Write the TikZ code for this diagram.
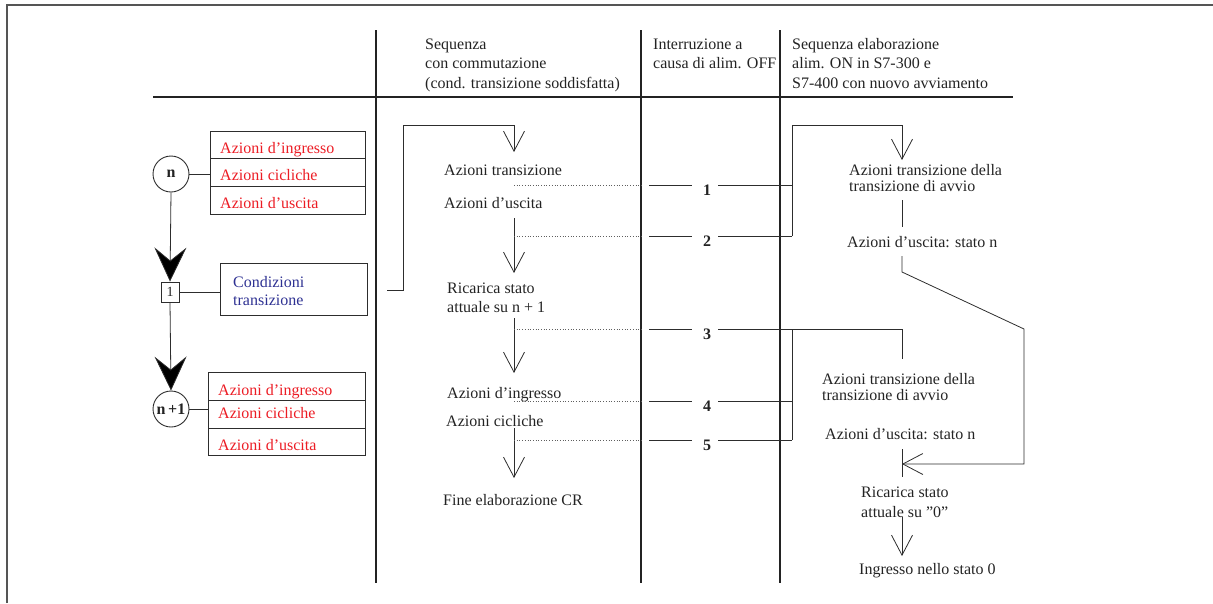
\documentclass[tikz,border=0pt]{standalone}
\usepackage{fontspec}
\setmainfont{Liberation Serif}
\usetikzlibrary{arrows.meta}
\definecolor{inkc}{RGB}{35,35,35}
\definecolor{linec}{RGB}{45,45,45}
\definecolor{redtxt}{RGB}{236,28,36}
\definecolor{bluetxt}{RGB}{46,49,146}
\definecolor{framec}{RGB}{85,85,85}
\definecolor{dotc}{RGB}{95,95,95}
\begin{document}
\begin{tikzpicture}[x=1pt,y=-1pt,
  txt/.style={anchor=base west, inner sep=0pt, text=inkc, font=\fontsize{16}{18}\selectfont},
  redlbl/.style={txt, text=redtxt},
  bluelbl/.style={txt, text=bluetxt},
  numlbl/.style={anchor=base, inner sep=0pt, text=inkc, font=\fontsize{16}{18}\selectfont\bfseries},
  ln/.style={draw=linec, line width=0.8pt},
  rule/.style={draw=inkc, line width=2.8pt},
  framel/.style={draw=framec, line width=1.6pt},
  dotl/.style={draw=dotc, line width=0.7pt, dotted},
  rowbox/.style={draw=linec, line width=0.9pt, inner sep=0pt},
  stepcirc/.style={circle, draw=linec, line width=0.9pt, minimum size=36pt, inner sep=0pt, text=inkc, font=\fontsize{16}{18}\selectfont\bfseries},
  barb/.tip={Straight Barb[length=20pt,width=21pt,line width=0.8pt]},
  bigtip/.tip={Stealth[length=34pt,width=32pt,inset=13pt,fill=black]}
]
\useasboundingbox (0,0) rectangle (1213,603);

% page frame (top and left edges)
\draw[framel] (7,603) -- (7,5) -- (1213,5);

% table rules
\draw[rule] (153,97) -- (1013,97);
\draw[rule] (376,30) -- (376,583);
\draw[rule] (641,30) -- (641,583);
\draw[rule] (780,30) -- (780,583);

% column headings
\node[txt] (h1a) at (425,49) {Sequenza};
\node[txt] (h1b) at (425,68.5) {con commutazione};
\node[txt] (h1c) at (425,88) {(cond. transizione soddisfatta)};
\node[txt] (h2a) at (653,49) {Interruzione a};
\node[txt] (h2b) at (653,68.5) {causa di alim. OFF};
\node[txt] (h3a) at (792,49) {Sequenza elaborazione};
\node[txt] (h3b) at (792,68.5) {alim. ON in S7-300 e};
\node[txt] (h3c) at (792,88) {S7-400 con nuovo avviamento};

% step n with its actions
\node[stepcirc] (sn) at (171,174) {n};
\node[rowbox, minimum width=155pt, minimum height=27pt] (ab1) at (287.5,144.5) {};
\node[rowbox, minimum width=155pt, minimum height=28pt] (ab2) at (287.5,172) {};
\node[rowbox, minimum width=155pt, minimum height=28pt] (ab3) at (287.5,200) {};
\node[redlbl] (ta1) at (220,153) {Azioni d’ingresso};
\node[redlbl] (ta2) at (220,180) {Azioni cicliche};
\node[redlbl] (ta3) at (220,208) {Azioni d’uscita};
\draw[ln] (sn.east) -- (sn.east -| ab2.west);

% transition 1 with its conditions
\node[rowbox, minimum width=18pt, minimum height=20pt, text=inkc, font=\fontsize{14}{14}\selectfont] (t1) at (170,292) {1};
\node[rowbox, minimum width=147pt, minimum height=52pt] (cb) at (293.5,289) {};
\node[bluelbl] (tc1) at (233,287) {Condizioni};
\node[bluelbl] (tc2) at (233,305) {transizione};
\draw[ln] (t1.east) -- (t1.east -| cb.west);

% step n+1 with its actions
\node[stepcirc] (sn1) at (171,409) {n\,+1};
\node[rowbox, minimum width=157pt, minimum height=28pt] (bb1) at (286.5,386) {};
\node[rowbox, minimum width=157pt, minimum height=28pt] (bb2) at (286.5,414) {};
\node[rowbox, minimum width=157pt, minimum height=27pt] (bb3) at (286.5,441.5) {};
\node[redlbl] (tb1) at (218,395) {Azioni d’ingresso};
\node[redlbl] (tb2) at (218,418) {Azioni cicliche};
\node[redlbl] (tb3) at (218,450) {Azioni d’uscita};
\draw[ln] (sn1.east) -- (sn1.east -| bb2.west);

% sequence flow on the left
\draw[ln, -{bigtip}] (sn.south) -- (t1.north);
\draw[ln, -{bigtip}] (t1.south) -- (sn1.north);

% sequence with switching
\node[txt] (s1) at (444,175) {Azioni transizione};
\node[txt] (s2) at (444,208) {Azioni d’uscita};
\node[txt] (s3a) at (447,293) {Ricarica stato};
\node[txt] (s3b) at (447,312) {attuale su n + 1};
\node[txt] (s4) at (447,398) {Azioni d’ingresso};
\node[txt] (s5) at (446,426) {Azioni cicliche};
\node[txt] (s6) at (443,505) {Fine elaborazione CR};

\coordinate (m0) at (387,290);
\coordinate (m1) at (403,125);
\coordinate (m2) at (514,125);
\coordinate (m3) at (514,152);
\draw[ln, -{barb}] (m0) -| (m1) -- (m2) -- (m3);
\coordinate (m4) at (514,218);
\coordinate (m5) at (514,273);
\draw[ln, -{barb}] (m4) -- (m5);
\coordinate (m6) at (514,318);
\coordinate (m7) at (514,373);
\draw[ln, -{barb}] (m6) -- (m7);
\coordinate (m8) at (514,428);
\coordinate (m9) at (514,478);
\draw[ln, -{barb}] (m8) -- (m9);

% interruption points 1 to 5
\foreach \k/\yy in {1/185,2/236,3/329,4/401,5/440}{
  \coordinate (d\k) at (514,\yy);
  \coordinate (e\k) at (641,\yy);
  \coordinate (f\k) at (649,\yy);
  \coordinate (g\k) at (692,\yy);
  \coordinate (h\k) at (718,\yy);
  \node[numlbl] (n\k) at (707,\yy+10.5) {\k};
  \draw[dotl] (d\k) -- (e\k);
  \draw[ln] (f\k) -- (g\k);
}

% power-on sequence
\node[txt] (r1a) at (849,175) {Azioni transizione della};
\node[txt] (r1b) at (849,191) {transizione di avvio};
\node[txt] (r2) at (847,247) {Azioni d’uscita: stato n};
\node[txt] (r3a) at (822,384) {Azioni transizione della};
\node[txt] (r3b) at (822,400) {transizione di avvio};
\node[txt] (r4) at (825,439) {Azioni d’uscita: stato n};
\node[txt] (r5a) at (861,497) {Ricarica stato};
\node[txt] (r5b) at (861,517) {attuale su ”0”};
\node[txt] (r6) at (859,574) {Ingresso nello stato 0};

\coordinate (k1) at (792,236);
\coordinate (k2) at (792,125);
\coordinate (k3) at (902,125);
\coordinate (k4) at (902,160);
\draw[ln] (h1) -- (h1 -| k1);
\draw[ln] (h2) -- (k1);
\draw[ln, -{barb}] (k1) -- (k2) -- (k3) -- (k4);

\coordinate (p1) at (902,200);
\coordinate (p2) at (902,227);
\draw[ln] (p1) -- (p2);
\coordinate (p3) at (902,256);
\coordinate (p4) at (902,272);
\coordinate (p5) at (1024,329);
\coordinate (p6) at (1024,464);
\coordinate (p7) at (902,464);
\draw[ln, -{barb}] (p3) -- (p4) -- (p5) -- (p6) -- (p7);
\coordinate (p8) at (902,449);
\coordinate (p9) at (902,477);
\draw[ln] (p8) -- (p9);

\coordinate (q1) at (792,440);
\coordinate (q2) at (902,329);
\coordinate (q3) at (902,359);
\draw[ln] (h3) -- (q2) -- (q3);
\draw[ln] (h3 -| q1) -- (q1);
\draw[ln] (h4) -- (h4 -| q1);
\draw[ln] (h5) -- (q1);

\coordinate (u1) at (902,517);
\coordinate (u2) at (902,556);
\draw[ln, -{barb}] (u1) -- (u2);
\end{tikzpicture}
\end{document}
